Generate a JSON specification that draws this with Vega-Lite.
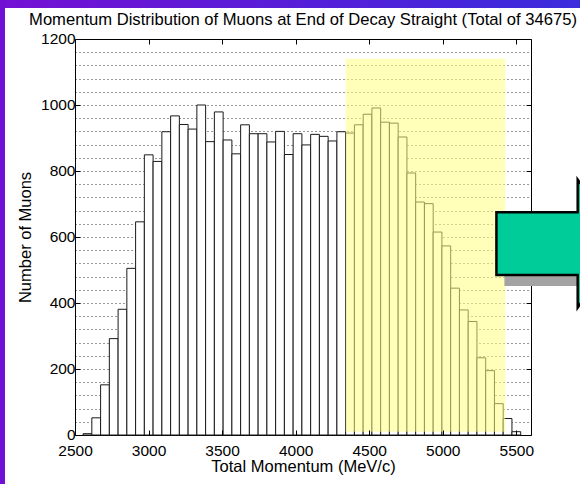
{
  "$schema": "https://vega.github.io/schema/vega-lite/v6.json",
  "width": 456,
  "height": 396,
  "autosize": "none",
  "padding": {"left": 75, "top": 39, "right": 49, "bottom": 49},
  "background": "#ffffff",
  "title": {
    "text": "Momentum Distribution of Muons at End of Decay Straight (Total of 34675)",
    "frame": "group",
    "anchor": "middle",
    "font": "Liberation Sans",
    "fontSize": 16.6,
    "fontWeight": "normal",
    "color": "#000000",
    "offset": 0,
    "dy": 29
  },
  "config": {
    "view": {"stroke": "#000000", "strokeWidth": 1},
    "axis": {
      "labelFont": "Liberation Sans",
      "titleFont": "Liberation Sans",
      "labelColor": "#000000",
      "titleColor": "#000000",
      "titleFontWeight": "normal",
      "labelFontSize": 15.5,
      "titleFontSize": 16.5,
      "tickColor": "#000000",
      "domain": false,
      "grid": false,
      "format": "d"
    }
  },
  "resolve": {"axis": {"x": "independent", "y": "independent"}},
  "datasets": {
    "muons": [
      {"lo": 2555, "hi": 2614.5, "n": 4},
      {"lo": 2614.5, "hi": 2674, "n": 52},
      {"lo": 2674, "hi": 2733.5, "n": 152},
      {"lo": 2733.5, "hi": 2793, "n": 292},
      {"lo": 2793, "hi": 2852.5, "n": 381},
      {"lo": 2852.5, "hi": 2912, "n": 505},
      {"lo": 2912, "hi": 2971.5, "n": 646},
      {"lo": 2971.5, "hi": 3031, "n": 849},
      {"lo": 3031, "hi": 3090.5, "n": 829},
      {"lo": 3090.5, "hi": 3150, "n": 919},
      {"lo": 3150, "hi": 3209.5, "n": 967},
      {"lo": 3209.5, "hi": 3269, "n": 941},
      {"lo": 3269, "hi": 3328.5, "n": 927},
      {"lo": 3328.5, "hi": 3388, "n": 1000},
      {"lo": 3388, "hi": 3447.5, "n": 889},
      {"lo": 3447.5, "hi": 3507, "n": 979},
      {"lo": 3507, "hi": 3566.5, "n": 894},
      {"lo": 3566.5, "hi": 3626, "n": 852},
      {"lo": 3626, "hi": 3685.5, "n": 940},
      {"lo": 3685.5, "hi": 3745, "n": 913},
      {"lo": 3745, "hi": 3804.5, "n": 913},
      {"lo": 3804.5, "hi": 3864, "n": 888},
      {"lo": 3864, "hi": 3923.5, "n": 920},
      {"lo": 3923.5, "hi": 3983, "n": 850},
      {"lo": 3983, "hi": 4042.5, "n": 913},
      {"lo": 4042.5, "hi": 4102, "n": 879},
      {"lo": 4102, "hi": 4161.5, "n": 911},
      {"lo": 4161.5, "hi": 4221, "n": 905},
      {"lo": 4221, "hi": 4280.5, "n": 891},
      {"lo": 4280.5, "hi": 4340, "n": 919},
      {"lo": 4340, "hi": 4399.5, "n": 915},
      {"lo": 4399.5, "hi": 4459, "n": 940},
      {"lo": 4459, "hi": 4518.5, "n": 972},
      {"lo": 4518.5, "hi": 4578, "n": 991},
      {"lo": 4578, "hi": 4637.5, "n": 948},
      {"lo": 4637.5, "hi": 4697, "n": 945},
      {"lo": 4697, "hi": 4756.5, "n": 903},
      {"lo": 4756.5, "hi": 4816, "n": 794},
      {"lo": 4816, "hi": 4875.5, "n": 706},
      {"lo": 4875.5, "hi": 4935, "n": 701},
      {"lo": 4935, "hi": 4994.5, "n": 615},
      {"lo": 4994.5, "hi": 5054, "n": 573},
      {"lo": 5054, "hi": 5113.5, "n": 445},
      {"lo": 5113.5, "hi": 5173, "n": 379},
      {"lo": 5173, "hi": 5232.5, "n": 344},
      {"lo": 5232.5, "hi": 5292, "n": 234},
      {"lo": 5292, "hi": 5351.5, "n": 195},
      {"lo": 5351.5, "hi": 5411, "n": 95},
      {"lo": 5411, "hi": 5470.5, "n": 50},
      {"lo": 5470.5, "hi": 5530, "n": 10}
    ]
  },
  "layer": [
    {
      "description": "Dotted horizontal grid every 40 muons, drawn behind the bars",
      "data": {"values": [{}]},
      "mark": {"type": "rule", "opacity": 0},
      "encoding": {
        "y": {
          "datum": 0,
          "type": "quantitative",
          "scale": {"domain": [0, 1200], "nice": false},
          "axis": {
            "orient": "left",
            "values": [40, 80, 120, 160, 200, 240, 280, 320, 360, 400, 440, 480, 520, 560, 600, 640, 680, 720, 760, 800, 840, 880, 920, 960, 1000, 1040, 1080, 1120, 1160],
            "grid": true,
            "gridDash": [1, 3],
            "gridColor": "#000000",
            "gridOpacity": 0.8,
            "labels": false,
            "ticks": false,
            "title": null,
            "zindex": 0
          }
        }
      }
    },
    {
      "description": "Histogram bars",
      "data": {"name": "muons"},
      "mark": {"type": "rect", "fill": "#ffffff", "stroke": "#1a1a1a", "strokeWidth": 1},
      "encoding": {
        "x": {
          "field": "lo",
          "type": "quantitative",
          "scale": {"domain": [2500, 5600], "nice": false},
          "axis": {
            "orient": "bottom",
            "values": [2500, 3000, 3500, 4000, 4500, 5000, 5500],
            "tickSize": -5,
            "labelPadding": 13,
            "labelFlush": false,
            "title": "Total Momentum (MeV/c)",
            "titlePadding": 0,
            "zindex": 1
          }
        },
        "x2": {"field": "hi"},
        "y": {
          "field": "n",
          "type": "quantitative",
          "axis": {
            "orient": "left",
            "values": [0, 200, 400, 600, 800, 1000, 1200],
            "tickSize": -5,
            "labelPadding": 5,
            "labelOffset": -1,
            "labelFlush": false,
            "title": "Number of Muons",
            "titlePadding": 7,
            "zindex": 1
          }
        },
        "y2": {"datum": 0}
      }
    },
    {
      "description": "Highlighted momentum window, with the top and right tick marks of the box",
      "data": {"values": [{}]},
      "mark": {"type": "rect", "fill": "#ffff80", "opacity": 0.55},
      "encoding": {
        "x": {
          "datum": 4340,
          "type": "quantitative",
          "axis": {"orient": "top", "values": [2500, 3000, 3500, 4000, 4500, 5000, 5500], "tickSize": -5, "labels": false, "title": null, "zindex": 0}
        },
        "x2": {"datum": 5425},
        "y": {
          "datum": 10,
          "type": "quantitative",
          "axis": {"orient": "right", "values": [0, 200, 400, 600, 800, 1000, 1200], "tickSize": -5, "labels": false, "title": null, "zindex": 0}
        },
        "y2": {"datum": 1140}
      }
    },
    {
      "description": "Arrow shadow",
      "data": {"values": [{}]},
      "mark": {
        "type": "point",
        "shape": "M -1 -0.49 L 0.27 -0.49 L 0.27 -1 L 1 0 L 0.27 1 L 0.27 0.49 L -1 0.49 Z",
        "size": 16384,
        "filled": true,
        "fill": "#a3a3a3",
        "opacity": 1,
        "strokeWidth": 0,
        "xOffset": 8,
        "yOffset": 11
      },
      "encoding": {
        "x": {"datum": 5800, "type": "quantitative", "axis": null},
        "y": {"datum": 580, "type": "quantitative", "axis": null}
      }
    },
    {
      "description": "Arrow pointing to the next panel",
      "data": {"values": [{}]},
      "mark": {
        "type": "point",
        "shape": "M -1 -0.49 L 0.27 -0.49 L 0.27 -1 L 1 0 L 0.27 1 L 0.27 0.49 L -1 0.49 Z",
        "size": 16384,
        "filled": true,
        "fill": "#00cc99",
        "opacity": 1,
        "stroke": "#000000",
        "strokeWidth": 2.5
      },
      "encoding": {
        "x": {"datum": 5800, "type": "quantitative", "axis": null},
        "y": {"datum": 580, "type": "quantitative", "axis": null}
      }
    },
    {
      "description": "Slide frame, top edge",
      "data": {"values": [{}]},
      "mark": {
        "type": "rect",
        "fill": {
          "gradient": "linear", "x1": 0, "y1": 0, "x2": 1, "y2": 0,
          "stops": [{"offset": 0, "color": "#7410d4"}, {"offset": 1, "color": "#3a2cdc"}]
        }
      },
      "encoding": {
        "x": {"datum": 1980, "type": "quantitative", "axis": null},
        "x2": {"datum": 5950},
        "y": {"datum": 1294, "type": "quantitative", "axis": null},
        "y2": {"datum": 1318}
      }
    },
    {
      "description": "Slide frame, left edge",
      "data": {"values": [{}]},
      "mark": {"type": "rect", "fill": "#7010d4"},
      "encoding": {
        "x": {"datum": 1980, "type": "quantitative", "axis": null},
        "x2": {"datum": 2024},
        "y": {"datum": -160, "type": "quantitative", "axis": null},
        "y2": {"datum": 1318}
      }
    }
  ]
}
